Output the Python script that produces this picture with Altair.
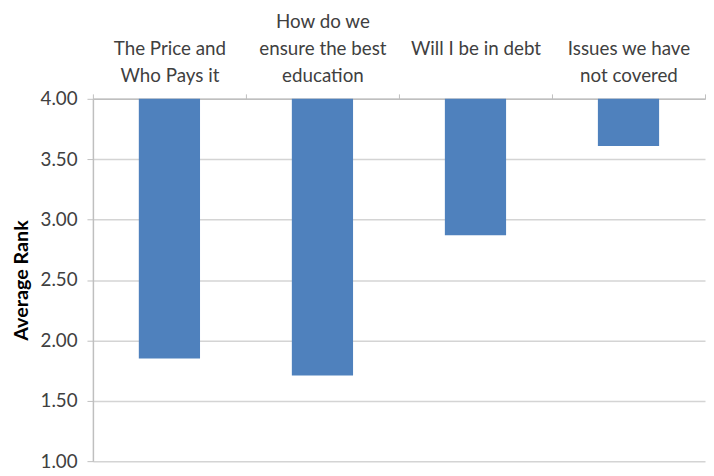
import altair as alt
import pandas as pd

categories = [
    "The Price and\nWho Pays it",
    "How do we\nensure the best\neducation",
    "Will I be in debt",
    "Issues we have\nnot covered",
]
values = [1.85, 1.71, 2.87, 3.61]
y_ticks = [1.0, 1.5, 2.0, 2.5, 3.0, 3.5, 4.0]

df = pd.DataFrame({"category": categories, "value": values})

FONT = "Lato"

# pad every label to three lines so all labels sit on a common bottom line
label_expr = (
    "split(length(split(datum.label, '\\n')) >= 3 ? datum.label : "
    "length(split(datum.label, '\\n')) == 2 ? '\\n' + datum.label : "
    "'\\n\\n' + datum.label, '\\n')"
)

chart = (
    alt.Chart(df)
    .mark_bar(color="#4f81bd", width=alt.RelativeBandSize(0.4))
    .encode(
        x=alt.X(
            "category:N",
            sort=categories,
            scale=alt.Scale(paddingInner=0, paddingOuter=0),
            axis=alt.Axis(
                orient="top",
                title=None,
                labelAngle=0,
                labelExpr=label_expr,
                labelLineHeight=27,
                labelFontSize=19,
                labelFont=FONT,
                labelColor="#404040",
                labelBaseline="top",
                labelPadding=82,
                tickBand="extent",
                tickSize=5,
                tickColor="#bfbfbf",
                domainColor="#bfbfbf",
                domainWidth=1.5,
            ),
        ),
        y=alt.Y(
            "value:Q",
            scale=alt.Scale(domain=[1, 4], nice=False, zero=False),
            axis=alt.Axis(
                values=y_ticks,
                format=".2f",
                title="Average Rank",
                titleFont=FONT,
                titleFontSize=20,
                titleFontWeight="bold",
                titleColor="#000000",
                titlePadding=9,
                labelFont=FONT,
                labelFontSize=19,
                labelColor="#404040",
                labelPadding=10,
                tickSize=6,
                tickColor="#bfbfbf",
                domainColor="#bfbfbf",
                domainWidth=1.5,
                gridColor="#d4d4d4",
                gridWidth=1.5,
            ),
        ),
        y2=alt.datum(4),
    )
    .properties(width=620, height=367, padding={"left": 3, "top": 2, "right": 0, "bottom": 0})
    .configure_view(stroke=None)
    .configure_axisX(grid=False)
)

chart.save("out.html", embed_options={"renderer": "svg", "actions": False})
